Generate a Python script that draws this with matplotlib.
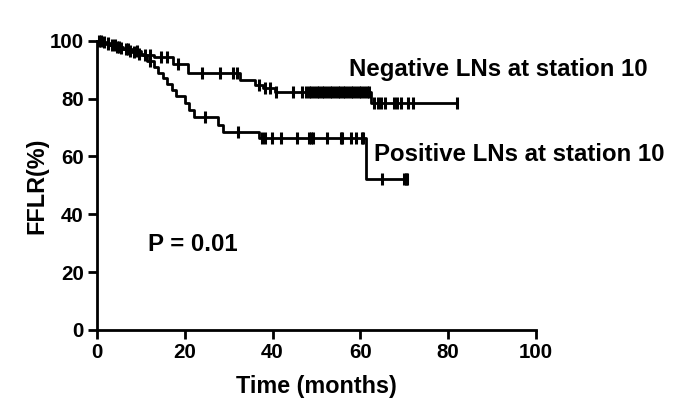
import numpy as np
import matplotlib
matplotlib.use("Agg")
import matplotlib.pyplot as plt

plt.rcParams['font.family'] = ['Liberation Sans', 'DejaVu Sans']
plt.rcParams['font.weight'] = 'bold'

# negative LNs at station 10: event times and survival after each event
neg_t = [0, 1, 2, 3, 4, 5, 6, 7, 8, 9, 10.5, 13, 17.3, 20.8, 32.5, 36, 37.8, 40.5, 62.5]
neg_s = [100, 99.5, 99, 98.5, 98, 97.5, 97, 96.5, 96, 95.5, 95, 94.3, 91.8, 88.9, 86.5, 84.8, 83.6, 82.4, 78.4]
neg_end = 82
neg_cens = [0.5, 1.5, 2.5, 3.5, 4.5, 5.5, 6.5, 7.5, 8.5, 9.5, 11, 12, 14.5, 16, 18.5, 24, 28, 31, 32,
            36.8, 38.3, 39.3, 40.8, 44.7, 46.8, 47.5,
            48.2, 48.8, 49.4, 50, 50.6, 51.2, 51.8, 52.4, 53, 53.6, 54.2, 54.8, 55.4, 56, 56.6,
            57.2, 57.8, 58.4, 59, 59.6, 60.2, 60.8, 61.4, 62,
            63.2, 64, 64.8, 65.6, 67.6, 68.4, 69.2, 70.8, 71.9, 82]

# positive LNs at station 10
pos_t = [0, 1.5, 3, 4.5, 6, 8, 10, 11.5, 13, 14, 15, 16, 17, 18, 20, 21, 22, 27.6, 28.6, 37, 61.3]
pos_s = [100, 99.3, 98.6, 97.9, 97.2, 96.5, 95, 93, 91, 89, 87, 85, 83, 81, 78.5, 76, 73.8, 71, 68.6, 66.3, 52.3]
pos_end = 70.7
pos_cens = [1, 2.5, 4, 5, 7, 9, 12, 24.5, 32.2, 37.6, 38.3, 39.9, 41.8, 45.6, 48.2, 48.8, 49.3,
            52.4, 55.5, 55.9, 57.8, 58.9, 60.4, 60.7, 65, 69.9, 70.3, 70.7]


def km_line(ax, t, s, end, cens):
    x = list(t) + [end]
    y = list(s) + [s[-1]]
    ax.step(x, y, where='post', color='black', lw=2, clip_on=False, zorder=3)
    idx = np.searchsorted(t, cens, side='right') - 1
    ax.plot(cens, np.array(s)[idx], ls='none', marker='|', ms=9, mew=2.2,
            color='black', clip_on=False, zorder=3)


fig = plt.figure(figsize=(6.85, 4.2), dpi=100)
ax = fig.add_axes([0.1416, 0.2143, 0.6409, 0.6887])

km_line(ax, neg_t, neg_s, neg_end, neg_cens)
km_line(ax, pos_t, pos_s, pos_end, pos_cens)

ax.set_xlim(0, 100)
ax.set_ylim(0, 100)
ax.set_xticks([0, 20, 40, 60, 80, 100])
ax.set_yticks([0, 20, 40, 60, 80, 100])
for sp in ['top', 'right']:
    ax.spines[sp].set_visible(False)
for sp in ['left', 'bottom']:
    ax.spines[sp].set_linewidth(2)
ax.tick_params(direction='out', length=6.5, width=2, labelsize=14.8, pad=3)

ax.set_xlabel('Time (months)', fontsize=16.8, fontweight='bold', labelpad=9)
ax.set_ylabel('FFLR(%)', fontsize=16.8, fontweight='bold', labelpad=1)

ax.text(57.5, 90, 'Negative LNs at station 10', fontsize=17.3, fontweight='bold', va='center')
ax.text(63, 60.5, 'Positive LNs at station 10', fontsize=17.3, fontweight='bold', va='center')
ax.text(11.6, 29.4, 'P = 0.01', fontsize=17.3, fontweight='bold', va='center')

fig.savefig('out.png', dpi=100)
